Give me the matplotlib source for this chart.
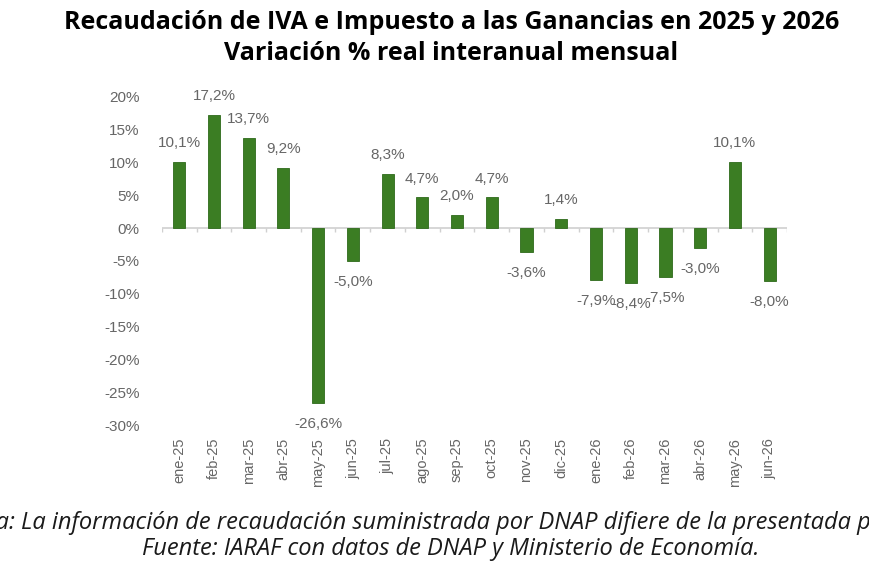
import matplotlib
matplotlib.use("Agg")
from matplotlib import pyplot as plt
import numpy as np

# data
months = ['ene-25', 'feb-25', 'mar-25', 'abr-25', 'may-25', 'jun-25',
          'jul-25', 'ago-25', 'sep-25', 'oct-25', 'nov-25', 'dic-25',
          'ene-26', 'feb-26', 'mar-26', 'abr-26', 'may-26', 'jun-26']
variacion = [10.1, 17.2, 13.7, 9.2, -26.6, -5.0,
             8.3, 4.7, 2.0, 4.7, -3.6, 1.4,
             -7.9, -8.4, -7.5, -3.0, 10.1, -8.0]
yticks = [20, 15, 10, 5, 0, -5, -10, -15, -20, -25, -30]

title = 'Recaudación de IVA e Impuesto a las Ganancias en 2025 y 2026\nVariación % real interanual mensual'
nota = 'Nota: La información de recaudación suministrada por DNAP difiere de la presentada por'
fuente = 'Fuente: IARAF con datos de DNAP y Ministerio de Economía.'

GREEN = '#3b7d23'
GREY = '#666666'

plt.rcParams['font.family'] = ['Liberation Sans', 'DejaVu Sans']

fig = plt.figure(figsize=(8.7, 5.8), dpi=100)
ax = fig.add_axes([0.186, 0.267, 0.7186, 0.566])

x = np.arange(len(months))
ax.bar(x, variacion, width=0.35, color=GREEN, edgecolor='#2e6a1a', linewidth=0.6, zorder=3)

# data labels
for xi, v in zip(x, variacion):
    txt = ('%.1f%%' % v).replace('.', ',')
    if v >= 0:
        ax.annotate(txt, (xi, v), xytext=(0, 13.5), textcoords='offset points',
                    ha='center', va='center', fontsize=11, color=GREY)
    else:
        ax.annotate(txt, (xi, v), xytext=(0, -15), textcoords='offset points',
                    ha='center', va='center', fontsize=11, color=GREY)

ax.set_xlim(-0.5, len(months) - 0.5)
ax.set_ylim(-30, 20)
ax.set_yticks(yticks)
ax.set_yticklabels(['%d%%' % t for t in yticks])
ax.set_xticks(x)
ax.set_xticklabels(months, rotation=90)

ax.tick_params(axis='y', length=0, labelsize=11, labelcolor=GREY, pad=16)
ax.tick_params(axis='x', length=0, labelsize=10.5, labelcolor=GREY, pad=9)
for s in ax.spines.values():
    s.set_visible(False)

# zero axis with small ticks between categories
ax.axhline(0, color='#d0d0d0', linewidth=1.2, zorder=2)
ax.vlines(np.arange(-0.5, len(months)), -0.6, 0, color='#d0d0d0', linewidth=1.0, zorder=2)

fig.text(0.519, 0.934, title, ha='center', va='center', fontsize=18,
         fontweight='bold', family=['Open Sans', 'DejaVu Sans'], color='black', linespacing=1.3)

# the note is cut at both edges in the reference
fig.text(-0.048, 0.098, nota, ha='left', va='center', fontsize=17,
         style='italic', family=['Open Sans', 'DejaVu Sans'], color='#1a1a1a')
fig.text(0.518, 0.053, fuente, ha='center', va='center', fontsize=17,
         style='italic', family=['Open Sans', 'DejaVu Sans'], color='#1a1a1a')

fig.savefig('out.png', dpi=100, facecolor='white')
